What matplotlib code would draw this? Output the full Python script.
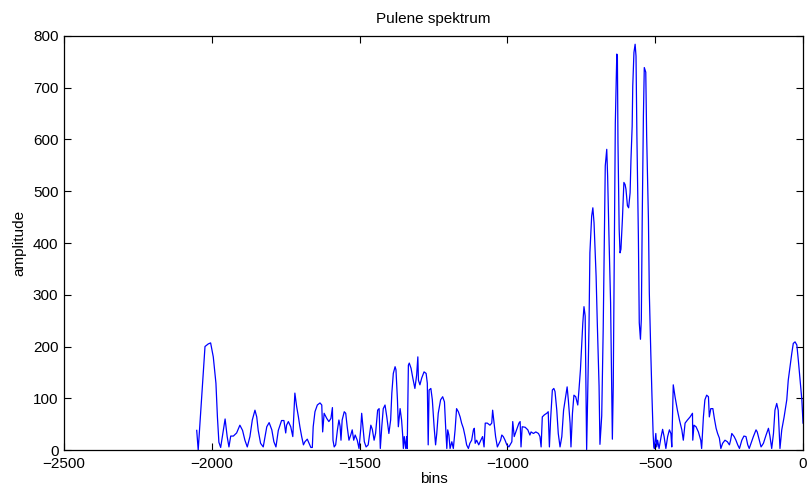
import matplotlib
matplotlib.use('Agg')
import matplotlib.pyplot as plt

plt.rcParams['font.family'] = ['Liberation Sans', 'DejaVu Sans']

# spectrum samples: bin index and amplitude
bins = [-2051, -2046, -2034, -2023, -2012, -2004, -1995, -1986, -1981, -1976,
        -1970, -1955, -1948, -1942, -1936, -1927, -1916, -1905, -1896, -1888,
        -1880, -1871, -1863, -1854, -1848, -1843, -1835, -1826, -1814, -1806,
        -1797, -1790, -1783, -1775, -1764, -1756, -1750, -1747, -1741, -1733,
        -1726, -1719, -1713, -1707, -1702, -1696, -1690, -1685, -1677, -1671,
        -1665, -1660, -1657, -1651, -1643, -1634, -1628, -1625, -1620, -1611,
        -1604, -1597, -1592, -1590, -1586, -1581, -1575, -1570, -1566, -1563,
        -1559, -1552, -1547, -1542, -1536, -1530, -1525, -1520, -1515, -1508,
        -1502, -1496, -1493, -1490, -1484, -1478, -1471, -1462, -1457, -1451,
        -1446, -1439, -1434, -1430, -1425, -1420, -1414, -1408, -1401, -1395,
        -1391, -1386, -1380, -1377, -1372, -1369, -1363, -1358, -1354, -1352,
        -1349, -1344, -1341, -1339, -1335, -1332, -1326, -1320, -1313, -1307,
        -1303, -1301, -1296, -1290, -1282, -1275, -1271, -1268, -1265, -1259,
        -1254, -1248, -1243, -1239, -1234, -1226, -1219, -1213, -1209, -1205,
        -1202, -1198, -1194, -1188, -1183, -1177, -1172, -1166, -1160, -1155,
        -1149, -1143, -1138, -1132, -1127, -1121, -1115, -1112, -1109, -1104,
        -1097, -1090, -1084, -1079, -1075, -1068, -1059, -1053, -1050, -1045,
        -1040, -1034, -1028, -1023, -1019, -1014, -1008, -1002, -995, -985,
        -982, -977, -969, -961, -957, -954, -950, -940, -931, -924,
        -920, -912, -904, -895, -890, -886, -882, -875, -867, -862,
        -858, -854, -848, -843, -839, -833, -828, -822, -816, -810,
        -803, -798, -794, -788, -785, -780, -775, -769, -762, -758,
        -753, -749, -745, -741, -737, -735, -732, -728, -724, -721,
        -715, -711, -707, -704, -700, -696, -690, -687, -681, -676,
        -672, -669, -664, -661, -656, -651, -645, -642, -637, -635,
        -630, -628, -626, -622, -619, -616, -611, -606, -602, -599,
        -594, -590, -585, -582, -578, -576, -572, -568, -565, -562,
        -557, -554, -550, -547, -544, -540, -537, -532, -529, -523,
        -520, -515, -511, -507, -505, -503, -498, -495, -492, -487,
        -480, -475, -470, -464, -458, -452, -447, -444, -439, -433,
        -425, -418, -410, -405, -399, -391, -382, -374, -373, -369,
        -362, -354, -346, -343, -337, -332, -326, -320, -317, -312,
        -305, -300, -294, -289, -283, -278, -272, -264, -256, -249,
        -245, -241, -233, -227, -221, -215, -207, -200, -193, -187,
        -182, -176, -168, -159, -155, -148, -142, -134, -125, -117,
        -112, -106, -100, -95, -89, -84, -78, -72, -64, -55,
        -50, -44, -38, -33, -27, -21, -16, -10, -4, 0]

amplitude = [38, 0, 103, 200, 205, 207, 180, 129, 64, 15,
             5, 60, 26, 6, 27, 27, 33, 48, 38, 19,
             6, 26, 58, 77, 64, 38, 13, 6, 45, 53,
             39, 16, 6, 38, 57, 57, 33, 48, 55, 45,
             26, 110, 84, 64, 45, 26, 10, 16, 21, 13,
             5, 5, 45, 74, 87, 91, 87, 35, 71, 61,
             55, 61, 82, 19, 6, 10, 39, 58, 46, 19,
             58, 74, 71, 45, 19, 29, 39, 19, 29, 19,
             3, 42, 71, 52, 16, 6, 10, 48, 40, 19,
             32, 77, 80, 3, 45, 80, 87, 64, 32, 58,
             110, 148, 161, 155, 97, 45, 80, 58, 26, 3,
             26, 3, 26, 3, 164, 168, 158, 139, 119, 145,
             180, 135, 126, 139, 151, 148, 129, 10, 116, 119,
             97, 45, 10, 32, 71, 97, 103, 93, 45, 3,
             39, 29, 3, 16, 3, 39, 80, 74, 64, 52,
             42, 26, 10, 3, 13, 19, 39, 42, 13, 19,
             10, 19, 26, 6, 52, 52, 48, 52, 77, 52,
             26, 6, 13, 19, 29, 26, 19, 10, 6, 16,
             55, 26, 39, 52, 55, 6, 45, 44, 39, 29,
             35, 32, 35, 32, 26, 6, 64, 68, 71, 74,
             6, 58, 116, 119, 113, 77, 32, 6, 26, 77,
             103, 122, 97, 52, 6, 71, 106, 103, 87, 116,
             155, 200, 245, 277, 259, 156, 1, 124, 240, 381,
             452, 468, 439, 394, 336, 246, 124, 11, 66, 233,
             413, 549, 581, 529, 401, 285, 21, 124, 478, 632,
             765, 761, 594, 427, 381, 388, 446, 517, 513, 504,
             472, 468, 497, 562, 626, 703, 768, 784, 761, 607,
             413, 246, 214, 253, 446, 645, 739, 730, 607, 446,
             304, 188, 104, 30, 8, 3, 32, 6, 19, 3,
             26, 40, 26, 3, 26, 39, 32, 6, 126, 103,
             77, 58, 39, 19, 52, 58, 64, 71, 19, 48,
             45, 35, 19, 3, 64, 97, 106, 103, 64, 80,
             80, 61, 42, 32, 23, 3, 13, 19, 16, 10,
             19, 32, 26, 19, 10, 3, 19, 27, 26, 10,
             3, 13, 26, 39, 35, 19, 6, 13, 29, 42,
             27, 3, 32, 77, 90, 77, 3, 39, 64, 97,
             135, 161, 187, 206, 209, 203, 174, 135, 97, 52]

fig = plt.figure(figsize=(8.1, 4.86), dpi=100)
ax = fig.add_axes([0.079, 0.074, 0.9124, 0.852])

ax.plot(bins, amplitude, color='#0000ff', linewidth=0.9)

ax.set_xlim(-2500, 0)
ax.set_ylim(0, 800)
ax.set_xticks(range(-2500, 1, 500))
ax.set_yticks(range(0, 801, 100))
ax.tick_params(direction='in', top=True, right=True, length=5, width=0.8,
               labelsize=11)
ax.tick_params(axis='x', pad=5)
ax.tick_params(axis='y', pad=4)
for side in ax.spines.values():
    side.set_linewidth(0.9)

ax.set_title('Pulene spektrum', fontsize=11, pad=9)
ax.set_xlabel('bins', fontsize=11, labelpad=1)
ax.set_ylabel('amplitude', fontsize=11, labelpad=5)

fig.savefig('out.png', dpi=100)
